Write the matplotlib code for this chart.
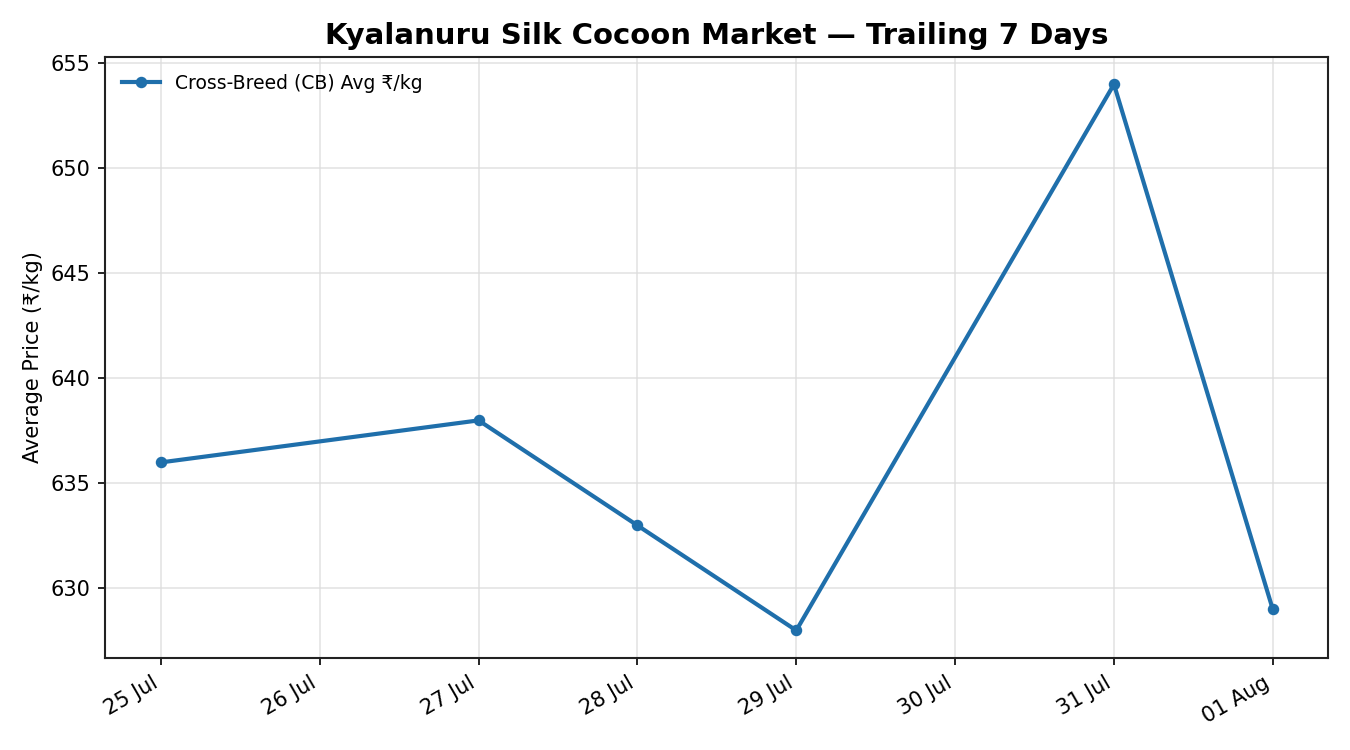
import matplotlib
matplotlib.use("Agg")
import matplotlib.pyplot as plt
import matplotlib.dates as mdates
import pandas as pd

dates = ["2024-07-25", "2024-07-27", "2024-07-28", "2024-07-29", "2024-07-31", "2024-08-01"]
prices = [636, 638, 633, 628, 654, 629]
series_label = "Cross-Breed (CB) Avg ₹/kg"

plt.rcParams['font.family'] = ['DejaVu Sans']
x = pd.to_datetime(dates)

fig, ax = plt.subplots(figsize=(9, 5), dpi=150)
ax.plot(x, prices, color="#1f6fab", linewidth=2, marker="o", markersize=4.5, label=series_label)

ax.set_title("Kyalanuru Silk Cocoon Market — Trailing 7 Days", fontsize=14, fontweight="bold")
ax.set_ylabel("Average Price (₹/kg)", fontsize=10)
ax.xaxis.set_major_locator(mdates.DayLocator())
ax.xaxis.set_major_formatter(mdates.DateFormatter("%d %b"))
ax.tick_params(labelsize=10)
ax.grid(True, color="#dddddd", alpha=0.8, linewidth=0.8)
for s in ax.spines.values():
    s.set_color("#222222")
    s.set_linewidth(1.0)
ax.legend(loc="upper left", frameon=False, fontsize=9)
fig.autofmt_xdate()
fig.subplots_adjust(left=0.078, right=0.984, top=0.924, bottom=0.123)
fig.savefig("out.png", dpi=150)
